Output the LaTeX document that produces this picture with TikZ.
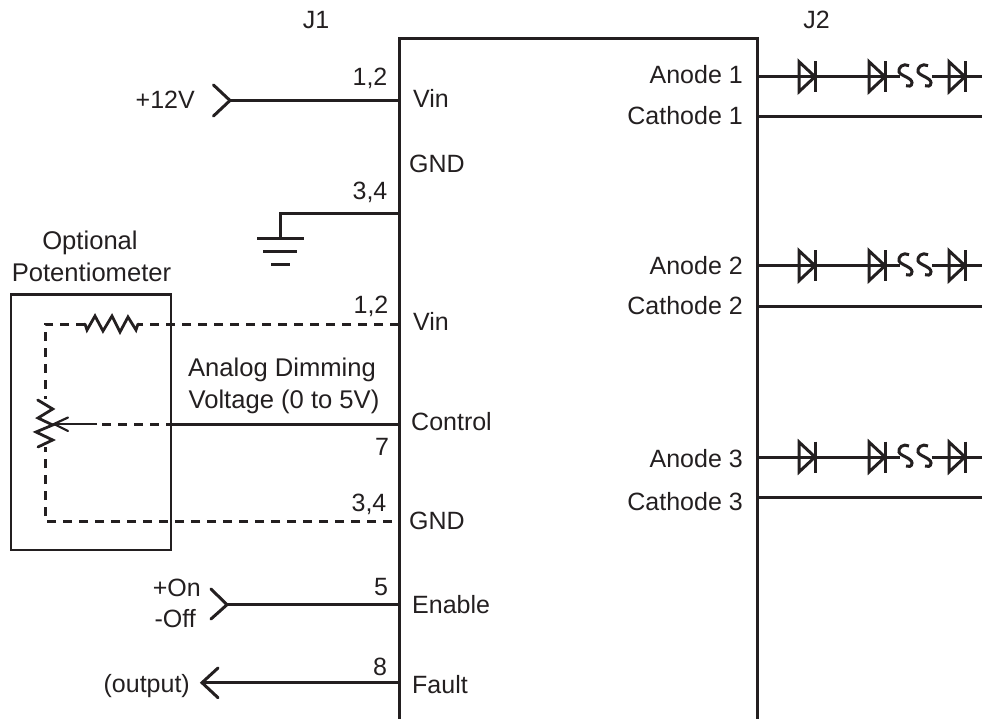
\documentclass[tikz,border=0pt]{standalone}
\usepackage{fontspec}
\setmainfont{Liberation Sans}
\definecolor{ink}{HTML}{231F20}
\tikzset{
  lbl/.style={inner sep=0pt,text=ink,anchor=base,font=\fontsize{25}{30}\selectfont},
  lblw/.style={inner sep=0pt,text=ink,anchor=base,font=\fontsize{25.6}{30}\selectfont},
  wire/.style={draw=ink,line width=3pt},
  thinwire/.style={draw=ink,line width=1.7pt},
  dashwire/.style={draw=ink,line width=3pt,dash pattern=on 9pt off 7pt},
  frame/.style={draw=ink,line width=2.3pt},
  symb/.style={draw=ink,line width=3pt,line cap=round,line join=miter},
  pics/diode/.style={code={
    \draw[symb] (0,-15) -- (0,15) -- (16,0) -- cycle;
    \draw[symb,line cap=butt] (16,-15.5) -- (16,15.5);
  }},
  pics/lamp/.style={code={
    \draw[symb,line cap=butt] (10,-11) .. controls (4,-14) and (-1,-9) .. (0,-5)
      .. controls (1,-1) and (13,1) .. (13,6) .. controls (13,10) and (9,10) .. (7,9);
  }}
}
\begin{document}
\begin{tikzpicture}[x=1pt,y=-1pt]
\useasboundingbox (0,0) rectangle (982,719);
% connector block
\coordinate (TL) at (399,38.5); \coordinate (TR) at (757,38.5);
\coordinate (BL) at (399,719); \coordinate (BR) at (757,719);
\draw[wire] (BL) -- (TL) -- (TR) -- (BR);

% power in
\coordinate (p12) at (230,100.5); \coordinate (vin1) at (399,100.5);
\draw[wire] (p12) -- (vin1);
\draw[symb] (213.5,85) -- (p12) -- (213.5,116);
% ground
\coordinate (gnd1) at (399,213.3); \coordinate (gc) at (280,213.3); \coordinate (gt) at (280,238.3);
\draw[wire] (gnd1) -- (gc) -- (gt);
\coordinate (g1a) at (257,238.3); \coordinate (g1b) at (304,238.3);
\coordinate (g2a) at (263,251.7); \coordinate (g2b) at (297,251.7);
\coordinate (g3a) at (271,265); \coordinate (g3b) at (290,265);
\draw[wire] (g1a) -- (g1b);
\draw[wire] (g2a) -- (g2b);
\draw[wire] (g3a) -- (g3b);

% optional potentiometer box
\coordinate (ob1) at (11,294.5); \coordinate (ob2) at (171,550);
\draw[frame] (ob1) rectangle (ob2);
\coordinate (vin2) at (399,324); \coordinate (rr) at (138,324); \coordinate (rl) at (85,324);
\coordinate (cn1) at (45,324); \coordinate (pt) at (45,399); \coordinate (pb) at (45,447);
\coordinate (cn2) at (45,521); \coordinate (gnd2) at (399,521);
\draw[dashwire] (vin2) -- (rr);
\draw[dashwire] (rl) -- (cn1) -- (pt);
\draw[dashwire,dash phase=9pt] (gnd2) -- (cn2) -- (pb);
\draw[symb,line width=2.8pt] (rl) -- (87,330) -- (95,316) -- (103,331) -- (112,316) -- (120,332) -- (128,317) -- (136,330) -- (rr);
\draw[symb,line width=2.8pt] (37.7,400) -- (52.7,409) -- (38,418) -- (52.7,425) -- (36,432) -- (52.7,440) -- (38,447);
% control
\coordinate (ctl) at (399,424); \coordinate (c1) at (167,424); \coordinate (c3) at (102,424);
\coordinate (c2) at (97,424); \coordinate (tip) at (54,424);
\draw[wire] (ctl) -- (c1);
\draw[dashwire] (c3) -- (c1);
\draw[thinwire] (c2) -- (tip);
\draw[symb,line width=2.2pt] (68,417.5) -- (tip) -- (68,431);
% enable
\coordinate (en) at (399,604.7); \coordinate (entip) at (227,604.7);
\draw[wire] (en) -- (entip);
\draw[symb] (211,589) -- (entip) -- (211,619);
% fault
\coordinate (fa) at (399,682.7); \coordinate (fatip) at (202,682.7);
\draw[wire] (fa) -- (fatip);
\draw[symb] (218,668) -- (fatip) -- (218,697.7);

% LED strings
\foreach \n/\ya/\yc in {1/76.7/116.7,2/265.7/306,3/457/497}{
  \coordinate (a\n) at (757,\ya); \coordinate (ae\n) at (982,\ya);
  \coordinate (k\n) at (757,\yc); \coordinate (ke\n) at (982,\yc);
  \draw[wire] (k\n) -- (ke\n);
  \draw[wire] (a\n) -- (900,\ya);
  \draw[wire] (932,\ya) -- (ae\n);
  \pic at (799,\ya) {diode};
  \pic at (869,\ya) {diode};
  \pic at (949,\ya) {diode};
  \pic at (899,\ya) {lamp};
  \pic at (918,\ya) {lamp};
}

% labels
\node[lbl] (tJ1) at (316,29) {J1};
\node[lbl] (tJ2) at (816.5,29) {J2};
\node[lbl,anchor=base east] (t12v) at (195,108.7) {+12V};
\node[lbl] (t12a) at (370,86) {1,2};
\node[lbl,anchor=base west] (tvin1) at (413,108) {Vin};
\node[lbl,anchor=base west] (tgnd1) at (409,173) {GND};
\node[lbl] (t34a) at (370,200) {3,4};
\node[lblw] (topt) at (90,250) {Optional};
\node[lblw] (tpot) at (91.5,281.7) {Potentiometer};
\node[lbl] (t12b) at (371,313) {1,2};
\node[lbl,anchor=base west] (tvin2) at (413,330) {Vin};
\node[lblw] (tana) at (282,376.7) {Analog Dimming};
\node[lblw] (tvol) at (284,408) {Voltage (0 to 5V)};
\node[lbl,anchor=base west] (tctl) at (411,430.7) {Control};
\node[lbl] (t7) at (382,455) {7};
\node[lbl] (t34b) at (369,511.7) {3,4};
\node[lbl,anchor=base west] (tgnd2) at (409,529.3) {GND};
\node[lbl,anchor=base east] (ton) at (201,596) {+On};
\node[lbl,anchor=base east] (toff) at (196,627) {-Off};
\node[lbl] (t5) at (381,595) {5};
\node[lbl,anchor=base west] (ten) at (412,613.3) {Enable};
\node[lbl] (t8) at (380,675) {8};
\node[lbl,anchor=base west] (tfa) at (412,693) {Fault};
\node[lbl,anchor=base east] (tout) at (190,692) {(output)};
\node[lbl,anchor=base east] (ta1) at (743,83.5) {Anode 1};
\node[lbl,anchor=base east] (tk1) at (743,125) {Cathode 1};
\node[lbl,anchor=base east] (ta2) at (743,274.3) {Anode 2};
\node[lbl,anchor=base east] (tk2) at (743,314) {Cathode 2};
\node[lbl,anchor=base east] (ta3) at (743,467) {Anode 3};
\node[lbl,anchor=base east] (tk3) at (743,510) {Cathode 3};
\end{tikzpicture}
\end{document}
